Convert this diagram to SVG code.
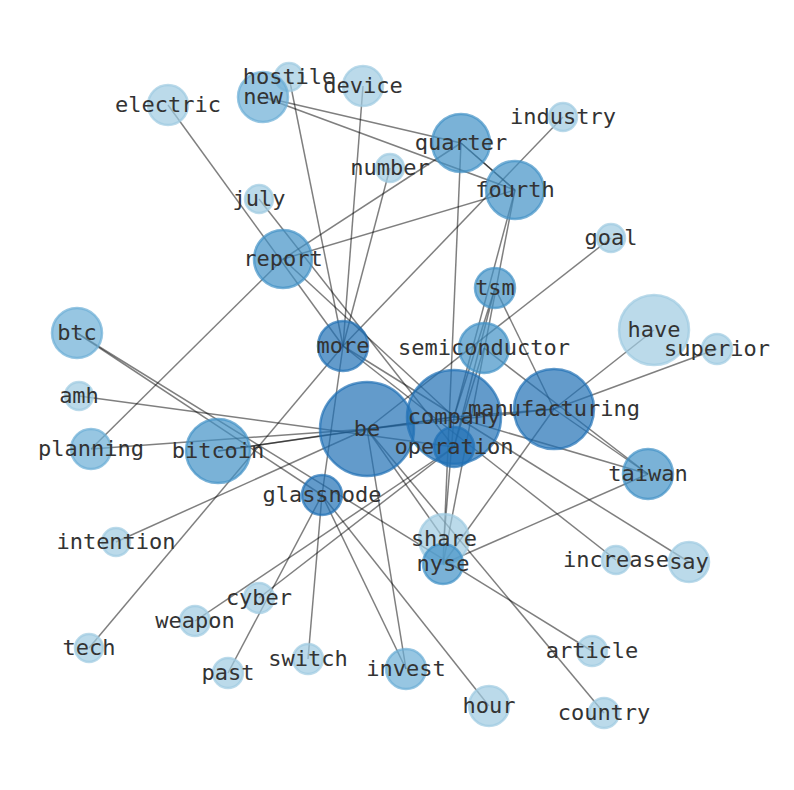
<svg xmlns="http://www.w3.org/2000/svg" width="794" height="790" viewBox="0 0 794 790">
<style>
.e{stroke:#000;stroke-opacity:0.5;stroke-width:1.5;fill:none}
.n circle{fill-opacity:0.7;stroke-opacity:0.7;stroke-width:2.5}
.c1{fill:#9ecae1;stroke:#9ecae1}
.c2{fill:#6baed6;stroke:#6baed6}
.c3{fill:#4292c6;stroke:#4292c6}
.c4{fill:#2171b5;stroke:#2171b5}
text{font-family:"DejaVu Sans Mono","Liberation Mono",monospace;font-size:22px;fill:#333;text-anchor:middle}
</style>
<rect width="794" height="790" fill="#fff"/>
<g id="edges" class="e">
<line x1="263" y1="97" x2="461" y2="143"/>
<line x1="263" y1="97" x2="515" y2="190"/>
<line x1="461" y1="143" x2="515" y2="190"/>
<line x1="461" y1="143" x2="515" y2="190"/>
<line x1="461" y1="143" x2="283" y2="259"/>
<line x1="515" y1="190" x2="283" y2="259"/>
<line x1="461" y1="143" x2="443" y2="564"/>
<line x1="515" y1="190" x2="454" y2="417"/>
<line x1="515" y1="190" x2="443" y2="564"/>
<line x1="495" y1="288" x2="454" y2="417"/>
<line x1="495" y1="288" x2="454" y2="447"/>
<line x1="495" y1="288" x2="554" y2="409"/>
<line x1="563" y1="117" x2="343" y2="346"/>
<line x1="390" y1="168" x2="343" y2="346"/>
<line x1="363" y1="86" x2="343" y2="346"/>
<line x1="289" y1="77" x2="343" y2="346"/>
<line x1="168" y1="105" x2="343" y2="346"/>
<line x1="89" y1="648" x2="343" y2="346"/>
<line x1="322" y1="495" x2="343" y2="346"/>
<line x1="343" y1="346" x2="616" y2="560"/>
<line x1="343" y1="346" x2="689" y2="562"/>
<line x1="259" y1="199" x2="454" y2="447"/>
<line x1="283" y1="259" x2="454" y2="417"/>
<line x1="91" y1="449" x2="283" y2="259"/>
<line x1="91" y1="449" x2="367" y2="429"/>
<line x1="79" y1="396" x2="454" y2="447"/>
<line x1="218" y1="451" x2="367" y2="429"/>
<line x1="218" y1="451" x2="454" y2="417"/>
<line x1="116" y1="542" x2="367" y2="429"/>
<line x1="77" y1="333" x2="322" y2="495"/>
<line x1="77" y1="333" x2="592" y2="651"/>
<line x1="322" y1="495" x2="228" y2="673"/>
<line x1="322" y1="495" x2="308" y2="659"/>
<line x1="322" y1="495" x2="406" y2="669"/>
<line x1="322" y1="495" x2="489" y2="706"/>
<line x1="367" y1="429" x2="406" y2="669"/>
<line x1="259" y1="598" x2="454" y2="447"/>
<line x1="195" y1="621" x2="454" y2="447"/>
<line x1="611" y1="238" x2="367" y2="429"/>
<line x1="654" y1="330" x2="554" y2="409"/>
<line x1="717" y1="349" x2="554" y2="409"/>
<line x1="554" y1="409" x2="648" y2="474"/>
<line x1="484" y1="348" x2="648" y2="474"/>
<line x1="454" y1="417" x2="648" y2="474"/>
<line x1="443" y1="564" x2="648" y2="474"/>
<line x1="443" y1="564" x2="554" y2="409"/>
<line x1="367" y1="429" x2="454" y2="417"/>
<line x1="367" y1="429" x2="554" y2="409"/>
<line x1="454" y1="417" x2="554" y2="409"/>
<line x1="484" y1="348" x2="454" y2="447"/>
<line x1="367" y1="429" x2="444" y2="539"/>
<line x1="367" y1="429" x2="604" y2="713"/>
<line x1="454" y1="417" x2="444" y2="539"/>
</g>
<g id="hostile" class="n"><circle class="c1" cx="289" cy="77" r="14"/></g>
<g id="new" class="n"><circle class="c2" cx="263" cy="97" r="25"/></g>
<g id="device" class="n"><circle class="c1" cx="363" cy="86" r="20"/></g>
<g id="electric" class="n"><circle class="c1" cx="168" cy="105" r="20"/></g>
<g id="industry" class="n"><circle class="c1" cx="563" cy="117" r="14"/></g>
<g id="quarter" class="n"><circle class="c3" cx="461" cy="143" r="29"/></g>
<g id="number" class="n"><circle class="c1" cx="390" cy="168" r="14"/></g>
<g id="fourth" class="n"><circle class="c3" cx="515" cy="190" r="29"/></g>
<g id="july" class="n"><circle class="c1" cx="259" cy="199" r="14"/></g>
<g id="goal" class="n"><circle class="c1" cx="611" cy="238" r="14"/></g>
<g id="report" class="n"><circle class="c3" cx="283" cy="259" r="29"/></g>
<g id="tsm" class="n"><circle class="c3" cx="495" cy="288" r="20"/></g>
<g id="have" class="n"><circle class="c1" cx="654" cy="330" r="35"/></g>
<g id="btc" class="n"><circle class="c2" cx="77" cy="333" r="25"/></g>
<g id="more" class="n"><circle class="c4" cx="343" cy="346" r="25"/></g>
<g id="semiconductor" class="n"><circle class="c3" cx="484" cy="348" r="25"/></g>
<g id="superior" class="n"><circle class="c1" cx="717" cy="349" r="15"/></g>
<g id="amh" class="n"><circle class="c1" cx="79" cy="396" r="14"/></g>
<g id="manufacturing" class="n"><circle class="c4" cx="554" cy="409" r="40"/></g>
<g id="be" class="n"><circle class="c4" cx="367" cy="429" r="47"/></g>
<g id="company" class="n"><circle class="c4" cx="454" cy="417" r="47"/></g>
<g id="operation" class="n"><circle class="c4" cx="454" cy="447" r="20"/></g>
<g id="planning" class="n"><circle class="c2" cx="91" cy="449" r="20"/></g>
<g id="bitcoin" class="n"><circle class="c3" cx="218" cy="451" r="32"/></g>
<g id="taiwan" class="n"><circle class="c3" cx="648" cy="474" r="25"/></g>
<g id="glassnode" class="n"><circle class="c4" cx="322" cy="495" r="20"/></g>
<g id="intention" class="n"><circle class="c1" cx="116" cy="542" r="14"/></g>
<g id="share" class="n"><circle class="c1" cx="444" cy="539" r="25"/></g>
<g id="nyse" class="n"><circle class="c3" cx="443" cy="564" r="20"/></g>
<g id="increase" class="n"><circle class="c1" cx="616" cy="560" r="14"/></g>
<g id="say" class="n"><circle class="c1" cx="689" cy="562" r="20"/></g>
<g id="cyber" class="n"><circle class="c1" cx="259" cy="598" r="15"/></g>
<g id="weapon" class="n"><circle class="c1" cx="195" cy="621" r="15"/></g>
<g id="tech" class="n"><circle class="c1" cx="89" cy="648" r="14"/></g>
<g id="past" class="n"><circle class="c1" cx="228" cy="673" r="15"/></g>
<g id="switch" class="n"><circle class="c1" cx="308" cy="659" r="15"/></g>
<g id="invest" class="n"><circle class="c2" cx="406" cy="669" r="20"/></g>
<g id="hour" class="n"><circle class="c1" cx="489" cy="706" r="20"/></g>
<g id="article" class="n"><circle class="c1" cx="592" cy="651" r="15"/></g>
<g id="country" class="n"><circle class="c1" cx="604" cy="713" r="15"/></g>
<g id="labels">
<text x="289" y="84">hostile</text>
<text x="263" y="104">new</text>
<text x="363" y="93">device</text>
<text x="168" y="112">electric</text>
<text x="563" y="124">industry</text>
<text x="461" y="150">quarter</text>
<text x="390" y="175">number</text>
<text x="515" y="197">fourth</text>
<text x="259" y="206">july</text>
<text x="611" y="245">goal</text>
<text x="283" y="266">report</text>
<text x="495" y="295">tsm</text>
<text x="654" y="337">have</text>
<text x="77" y="340">btc</text>
<text x="343" y="353">more</text>
<text x="484" y="355">semiconductor</text>
<text x="717" y="356">superior</text>
<text x="79" y="403">amh</text>
<text x="554" y="416">manufacturing</text>
<text x="367" y="436">be</text>
<text x="454" y="424">company</text>
<text x="454" y="454">operation</text>
<text x="91" y="456">planning</text>
<text x="218" y="458">bitcoin</text>
<text x="648" y="481">taiwan</text>
<text x="322" y="502">glassnode</text>
<text x="116" y="549">intention</text>
<text x="444" y="546">share</text>
<text x="443" y="571">nyse</text>
<text x="616" y="567">increase</text>
<text x="689" y="569">say</text>
<text x="259" y="605">cyber</text>
<text x="195" y="628">weapon</text>
<text x="89" y="655">tech</text>
<text x="228" y="680">past</text>
<text x="308" y="666">switch</text>
<text x="406" y="676">invest</text>
<text x="489" y="713">hour</text>
<text x="592" y="658">article</text>
<text x="604" y="720">country</text>
</g>
</svg>
